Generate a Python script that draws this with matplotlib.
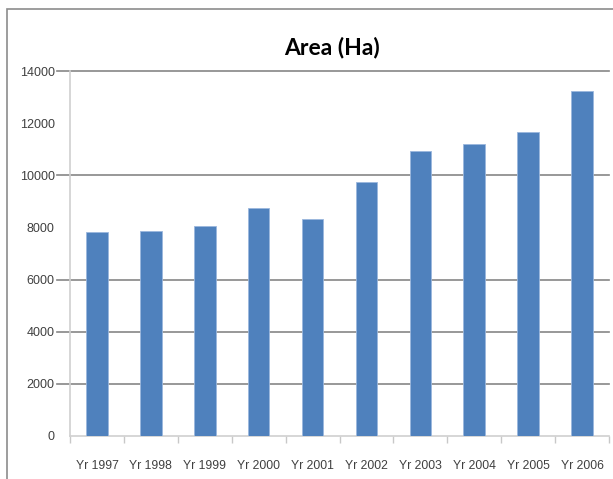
import matplotlib.pyplot as plt
from matplotlib.patches import Rectangle
import numpy as np

years = ['Yr 1997', 'Yr 1998', 'Yr 1999', 'Yr 2000', 'Yr 2001',
         'Yr 2002', 'Yr 2003', 'Yr 2004', 'Yr 2005', 'Yr 2006']
area = [7820, 7850, 8050, 8740, 8310, 9740, 10930, 11200, 11660, 13240]
y_ticks = [0, 2000, 4000, 6000, 8000, 10000, 12000, 14000]
grid_at = [2000, 4000, 6000, 10000, 14000]

plt.rcParams['font.family'] = ['Liberation Sans', 'DejaVu Sans']

fig = plt.figure(figsize=(6.13, 4.79), dpi=100)
ax = fig.add_axes([70 / 613, 1 - 436 / 479, 539 / 613, 365 / 479])

# outer chart frame (cut off at right and bottom)
fig.patches.append(Rectangle((7 / 613, -0.1), 1.2, 1 - 9 / 479 + 0.1,
                             transform=fig.transFigure, fill=False,
                             edgecolor='#8c8c8c', linewidth=1.2))

x = np.arange(len(years))
ax.bar(x, area, width=0.4, color='#4f81bd', edgecolor='#9bb7dd',
       linewidth=0.6, zorder=3)

for g in grid_at:
    ax.axhline(g, xmin=-13 / 539, xmax=1, color='#868686',
               linewidth=1.2, zorder=1, clip_on=False)

ax.set_xlim(-0.5, len(years) - 0.5)
ax.set_ylim(0, 14000)
ax.set_yticks(y_ticks)
ax.set_yticklabels([str(v) for v in y_ticks])
ax.set_xticks(x)
ax.set_xticklabels(years)
ax.set_xticks(np.arange(-0.5, len(years)), minor=True)

ax.tick_params(axis='y', length=0, pad=11, labelsize=9, labelcolor='#404040')
ax.tick_params(axis='x', which='major', length=0, pad=17, labelsize=8.8,
               labelcolor='#404040')
ax.tick_params(axis='x', which='minor', length=5, width=1, color='#c8c8c8',
               direction='out')

for s in ['top', 'right']:
    ax.spines[s].set_visible(False)
ax.spines['left'].set_color('#d0d0d0')
ax.spines['bottom'].set_color('#d0d0d0')
ax.spines['left'].set_linewidth(1.2)
ax.spines['bottom'].set_linewidth(1.2)

fig.text(332 / 613, 1 - 48 / 479, 'Area (Ha)', ha='center', va='center',
         fontsize=16.5, fontweight='bold', family=['Lato', 'DejaVu Sans'])

fig.savefig('out.png', dpi=100)
